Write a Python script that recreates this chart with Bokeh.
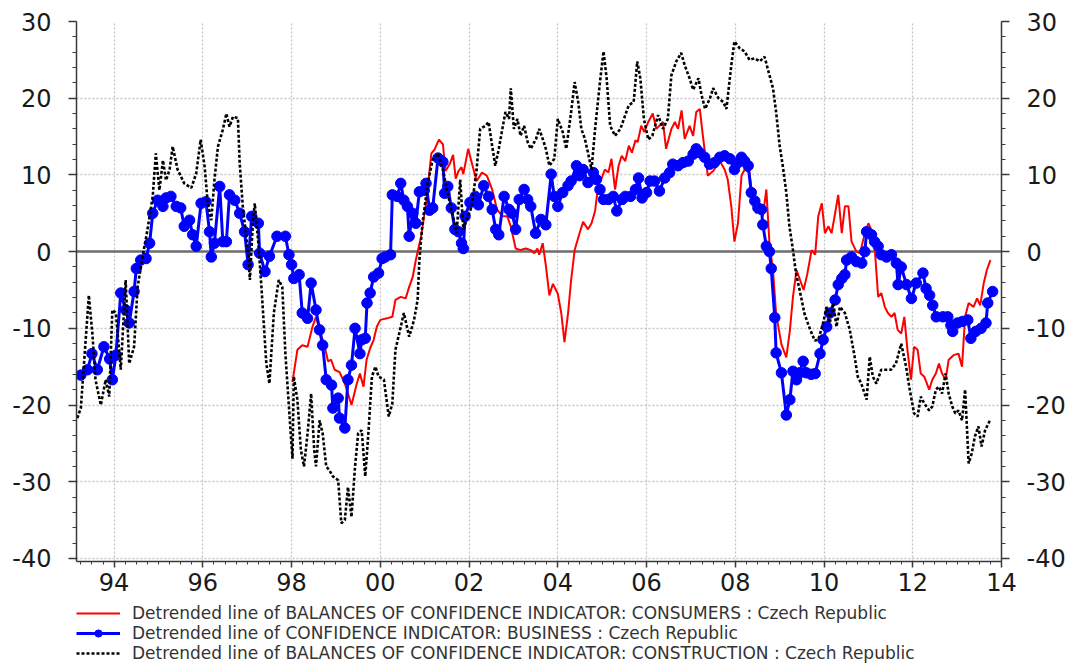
import numpy as np
from bokeh.plotting import figure
from bokeh.layouts import column
from bokeh.models import (Range1d, LinearAxis, FixedTicker, Span, Legend,
                          LegendItem)
from bokeh.core.properties import value
from bokeh.embed import file_html
from bokeh.resources import INLINE

# ---------------- data (decimal year, detrended balance) ----------------
consumers = [
    (1998.02, -17.0), (1998.13, -12.8), (1998.24, -12.2), (1998.36, -12.4), (1998.47, -9.8),
    (1998.55, -8.5), (1998.63, -10.2), (1998.74, -12.2), (1998.82, -14.3), (1998.89, -14.1),
    (1998.97, -15.4), (1999.08, -15.7), (1999.20, -17.2), (1999.27, -18.5), (1999.35, -20.0),
    (1999.47, -17.2), (1999.54, -15.9), (1999.62, -17.6), (1999.69, -14.1), (1999.77, -12.6),
    (1999.85, -11.5), (1999.92, -9.8), (2000.00, -8.9), (2000.15, -8.7), (2000.27, -8.5),
    (2000.34, -6.3), (2000.46, -5.9), (2000.57, -6.1), (2000.65, -4.6), (2000.73, -3.3),
    (2000.80, -1.1), (2000.92, 2.0), (2001.03, 6.3), (2001.15, 12.8), (2001.22, 13.3),
    (2001.32, 14.6), (2001.41, 14.0), (2001.47, 10.5), (2001.57, 11.5), (2001.64, 12.6),
    (2001.70, 9.5), (2001.76, 10.5), (2001.83, 11.0), (2001.87, 10.1), (2001.98, 13.4),
    (2002.06, 11.6), (2002.17, 9.2), (2002.29, 10.3), (2002.40, 9.9), (2002.52, 8.1),
    (2002.63, 5.5), (2002.75, 4.6), (2002.86, 4.6), (2002.94, 3.3), (2003.05, 0.4),
    (2003.16, 0.2), (2003.28, 0.4), (2003.39, 0.2), (2003.47, -0.2), (2003.54, 0.4),
    (2003.58, -0.4), (2003.66, 1.1), (2003.73, -1.8), (2003.81, -5.7), (2003.89, -4.2),
    (2004.00, -5.5), (2004.08, -8.1), (2004.15, -11.8), (2004.23, -8.1), (2004.30, -3.7),
    (2004.38, 0.2), (2004.49, 2.4), (2004.57, 3.9), (2004.68, 2.9), (2004.76, 3.7),
    (2004.84, 5.3), (2004.91, 8.6), (2004.99, 9.6), (2005.06, 10.7), (2005.14, 10.3),
    (2005.21, 12.1), (2005.29, 8.1), (2005.37, 11.2), (2005.44, 12.5), (2005.52, 11.8),
    (2005.60, 13.8), (2005.67, 12.9), (2005.75, 14.5), (2005.80, 14.3), (2005.88, 16.4),
    (2005.95, 15.6), (2006.03, 16.8), (2006.14, 18.0), (2006.22, 16.0), (2006.37, 16.9),
    (2006.44, 13.4), (2006.56, 16.0), (2006.64, 16.9), (2006.71, 16.0), (2006.79, 18.4),
    (2006.86, 14.7), (2006.97, 16.4), (2007.05, 15.1), (2007.12, 18.2), (2007.20, 18.6),
    (2007.27, 15.1), (2007.38, 9.9), (2007.50, 10.5), (2007.65, 11.8), (2007.76, 10.7),
    (2007.83, 9.4), (2007.91, 5.9), (2007.98, 1.3), (2008.06, 3.7), (2008.14, 9.9),
    (2008.21, 10.7), (2008.32, 10.3), (2008.40, 6.4), (2008.47, 5.0), (2008.55, 5.9),
    (2008.62, 4.6), (2008.70, 8.1), (2008.77, 1.1), (2008.85, -2.4), (2008.92, -8.1),
    (2009.04, -12.1), (2009.15, -13.8), (2009.23, -10.3), (2009.30, -5.9), (2009.38, -2.4),
    (2009.46, -3.7), (2009.54, -5.0), (2009.62, -3.0), (2009.72, 0.2), (2009.80, -0.4),
    (2009.87, 4.6), (2009.95, 6.3), (2010.02, 2.4), (2010.10, 3.3), (2010.17, 2.4),
    (2010.25, 5.0), (2010.32, 7.4), (2010.40, 2.4), (2010.47, 5.9), (2010.55, 5.9),
    (2010.62, 1.3), (2010.73, 0.0), (2010.81, -0.2), (2010.92, 2.4), (2011.00, 3.7),
    (2011.07, 2.8), (2011.14, 0.7), (2011.22, -5.9), (2011.29, -5.4), (2011.37, -7.2),
    (2011.44, -8.0), (2011.52, -8.5), (2011.59, -8.0), (2011.66, -10.2), (2011.74, -10.7),
    (2011.81, -8.5), (2011.88, -12.8), (2011.96, -16.7), (2012.03, -12.4), (2012.11, -12.8),
    (2012.18, -15.9), (2012.26, -16.3), (2012.37, -18.0), (2012.44, -16.7), (2012.52, -15.9),
    (2012.59, -14.6), (2012.66, -15.9), (2012.74, -16.7), (2012.81, -14.1), (2012.92, -13.5),
    (2013.03, -13.3), (2013.11, -15.0), (2013.18, -8.5), (2013.26, -6.7), (2013.37, -7.2),
    (2013.45, -6.1), (2013.52, -7.0), (2013.60, -4.1), (2013.67, -2.4), (2013.75, -1.1),
]

business = [
    (1993.25, -16.1), (1993.40, -15.4), (1993.50, -13.3), (1993.62, -15.4), (1993.77, -12.4),
    (1993.90, -14.0), (1993.96, -16.7), (1994.04, -13.5), (1994.15, -5.4), (1994.26, -7.6),
    (1994.34, -9.3), (1994.45, -5.2), (1994.50, -2.2), (1994.60, -1.1), (1994.72, -0.9),
    (1994.80, 1.1), (1994.87, 5.0), (1994.98, 6.7), (1995.10, 5.9), (1995.17, 7.0),
    (1995.28, 7.2), (1995.40, 5.9), (1995.50, 5.7), (1995.58, 3.3), (1995.70, 4.1),
    (1995.77, 2.2), (1995.85, 0.7), (1995.96, 6.3), (1996.07, 6.5), (1996.15, 2.6),
    (1996.19, -0.7), (1996.26, 1.1), (1996.38, 8.5), (1996.45, 1.3), (1996.53, 1.3),
    (1996.60, 7.4), (1996.72, 6.7), (1996.83, 5.0), (1996.94, 2.6), (1997.02, -1.7),
    (1997.10, 4.6), (1997.25, 3.7), (1997.28, -0.2), (1997.40, -2.6), (1997.50, -0.6),
    (1997.67, 2.0), (1997.86, 2.0), (1997.94, -0.4), (1998.00, -1.7), (1998.05, -3.5),
    (1998.17, -3.0), (1998.24, -8.0), (1998.36, -8.7), (1998.44, -4.1), (1998.55, -7.6),
    (1998.63, -10.2), (1998.70, -12.2), (1998.78, -16.7), (1998.90, -17.4), (1998.93, -20.4),
    (1999.05, -19.1), (1999.08, -21.7), (1999.20, -23.0), (1999.27, -16.7), (1999.35, -14.8),
    (1999.43, -10.0), (1999.54, -13.3), (1999.58, -11.5), (1999.66, -11.3), (1999.70, -6.7),
    (1999.77, -5.4), (1999.85, -3.3), (1999.96, -2.8), (2000.04, -0.9), (2000.11, -0.7),
    (2000.23, -0.4), (2000.27, 7.4), (2000.38, 7.2), (2000.46, 8.9), (2000.53, 6.7),
    (2000.61, 5.9), (2000.65, 2.0), (2000.73, 5.0), (2000.80, 3.7), (2000.88, 7.8),
    (2000.99, 8.0), (2001.03, 8.9), (2001.11, 5.4), (2001.18, 5.7), (2001.30, 12.2),
    (2001.41, 11.7), (2001.45, 7.6), (2001.52, 8.5), (2001.60, 5.7), (2001.68, 2.9),
    (2001.76, 2.6), (2001.83, 1.1), (2001.87, 0.4), (2001.91, 4.6), (2002.02, 6.4),
    (2002.14, 7.2), (2002.21, 6.1), (2002.33, 8.6), (2002.44, 7.2), (2002.52, 5.5),
    (2002.60, 2.9), (2002.67, 2.2), (2002.79, 7.2), (2002.90, 5.5), (2002.97, 5.0),
    (2003.05, 2.9), (2003.13, 6.8), (2003.24, 8.1), (2003.32, 6.8), (2003.39, 5.9),
    (2003.50, 2.4), (2003.62, 4.2), (2003.73, 3.5), (2003.85, 10.1), (2003.92, 7.2),
    (2004.00, 5.9), (2004.11, 7.7), (2004.23, 8.6), (2004.30, 9.2), (2004.42, 11.2),
    (2004.49, 9.9), (2004.57, 10.7), (2004.68, 9.0), (2004.80, 10.3), (2004.87, 9.4),
    (2004.95, 8.1), (2005.03, 6.8), (2005.14, 6.8), (2005.25, 7.2), (2005.33, 5.3),
    (2005.45, 6.8), (2005.52, 7.2), (2005.64, 7.2), (2005.75, 8.1), (2005.82, 9.6),
    (2005.90, 7.0), (2006.00, 7.7), (2006.08, 9.2), (2006.18, 9.2), (2006.29, 7.9),
    (2006.41, 9.6), (2006.52, 10.3), (2006.59, 11.4), (2006.71, 11.2), (2006.82, 11.6),
    (2006.94, 11.8), (2007.05, 12.7), (2007.12, 13.4), (2007.20, 12.9), (2007.31, 12.3),
    (2007.42, 11.4), (2007.53, 11.6), (2007.65, 12.3), (2007.76, 12.5), (2007.88, 12.1),
    (2007.98, 10.7), (2008.06, 11.6), (2008.14, 12.3), (2008.21, 11.8), (2008.29, 11.2),
    (2008.36, 7.7), (2008.44, 6.6), (2008.51, 5.7), (2008.59, 5.5), (2008.62, 3.5),
    (2008.70, 0.7), (2008.77, 0.0), (2008.81, -2.2), (2008.89, -8.6), (2008.92, -13.2),
    (2009.04, -15.8), (2009.15, -21.3), (2009.23, -19.3), (2009.30, -15.6), (2009.38, -16.7),
    (2009.45, -15.8), (2009.53, -14.3), (2009.60, -15.8), (2009.71, -16.0), (2009.80, -15.9),
    (2009.91, -13.3), (2009.98, -11.5), (2010.06, -9.8), (2010.13, -8.0), (2010.25, -6.3),
    (2010.32, -4.3), (2010.40, -3.5), (2010.47, -3.0), (2010.51, -1.1), (2010.62, -0.7),
    (2010.73, -1.3), (2010.85, -1.5), (2010.92, 0.0), (2010.96, 2.6), (2011.07, 2.2),
    (2011.14, 1.3), (2011.22, 0.7), (2011.29, -0.4), (2011.41, -0.7), (2011.52, -0.4),
    (2011.63, -1.5), (2011.67, -4.3), (2011.74, -2.0), (2011.86, -4.3), (2011.97, -6.1),
    (2012.08, -4.1), (2012.23, -2.8), (2012.30, -4.8), (2012.38, -5.7), (2012.45, -7.0),
    (2012.53, -8.5), (2012.68, -8.5), (2012.79, -8.5), (2012.86, -9.6), (2012.90, -10.4),
    (2013.01, -9.3), (2013.12, -9.1), (2013.24, -8.9), (2013.31, -11.3), (2013.42, -10.4),
    (2013.54, -10.0), (2013.65, -9.3), (2013.69, -6.7), (2013.80, -5.2),
]

construction = [
    (1993.17, -21.7), (1993.25, -20.4), (1993.43, -5.7), (1993.51, -10.7), (1993.58, -16.7),
    (1993.70, -20.0), (1993.81, -16.7), (1993.89, -18.9), (1993.96, -7.6), (1994.04, -8.0),
    (1994.15, -15.4), (1994.26, -3.7), (1994.34, -14.6), (1994.45, -12.4), (1994.53, -4.6),
    (1994.64, -0.7), (1994.75, 2.8), (1994.87, 7.2), (1994.94, 12.8), (1995.02, 8.0),
    (1995.10, 11.9), (1995.17, 9.3), (1995.25, 10.7), (1995.32, 13.7), (1995.43, 10.7),
    (1995.58, 8.9), (1995.74, 8.3), (1995.85, 10.2), (1995.95, 14.6), (1996.04, 11.1),
    (1996.11, 6.3), (1996.19, 4.1), (1996.26, 9.3), (1996.34, 13.7), (1996.45, 15.9),
    (1996.53, 18.0), (1996.60, 16.3), (1996.68, 17.6), (1996.79, 17.4), (1996.83, 11.5),
    (1996.90, 5.9), (1997.02, -0.2), (1997.06, -3.7), (1997.13, 4.1), (1997.17, 6.3),
    (1997.25, 1.1), (1997.32, -4.6), (1997.43, -14.6), (1997.50, -17.2), (1997.60, -8.0),
    (1997.71, -3.7), (1997.79, -4.6), (1997.86, -13.3), (1997.98, -23.7), (1998.02, -27.0),
    (1998.05, -16.3), (1998.13, -19.3), (1998.21, -25.9), (1998.28, -28.0), (1998.36, -23.7),
    (1998.44, -18.5), (1998.51, -25.9), (1998.55, -28.0), (1998.63, -22.0), (1998.70, -23.7),
    (1998.78, -28.0), (1998.85, -28.5), (1998.93, -29.3), (1999.05, -29.8), (1999.12, -35.4),
    (1999.20, -35.0), (1999.27, -30.7), (1999.35, -34.6), (1999.43, -28.0), (1999.50, -23.7),
    (1999.58, -23.3), (1999.66, -29.3), (1999.73, -23.7), (1999.81, -16.3), (1999.89, -15.0),
    (1999.96, -16.3), (2000.08, -16.7), (2000.19, -21.5), (2000.27, -19.8), (2000.34, -12.8),
    (2000.46, -9.8), (2000.53, -8.0), (2000.65, -11.1), (2000.76, -8.9), (2000.84, -6.3),
    (2000.88, -1.1), (2000.95, 3.7), (2001.07, 8.9), (2001.18, 12.0), (2001.30, 12.8),
    (2001.41, 10.7), (2001.50, 8.0), (2001.60, 5.5), (2001.72, 2.4), (2001.80, 9.4),
    (2001.87, 2.9), (2001.95, 4.2), (2002.06, 5.9), (2002.17, 10.7), (2002.25, 16.0),
    (2002.37, 16.4), (2002.44, 16.9), (2002.52, 13.8), (2002.59, 11.2), (2002.67, 13.4),
    (2002.75, 16.0), (2002.82, 18.2), (2002.90, 17.3), (2002.94, 21.3), (2003.01, 16.0),
    (2003.09, 17.3), (2003.16, 15.1), (2003.24, 16.4), (2003.32, 14.3), (2003.39, 13.4),
    (2003.51, 14.7), (2003.58, 16.0), (2003.66, 14.7), (2003.73, 13.4), (2003.81, 11.2),
    (2003.92, 12.1), (2004.00, 17.3), (2004.11, 15.6), (2004.19, 13.4), (2004.30, 18.2),
    (2004.38, 22.1), (2004.46, 19.5), (2004.53, 16.0), (2004.61, 14.7), (2004.68, 12.9),
    (2004.76, 10.7), (2004.84, 16.0), (2004.95, 22.1), (2005.03, 26.1), (2005.10, 22.6),
    (2005.18, 16.4), (2005.29, 15.1), (2005.41, 16.0), (2005.52, 17.8), (2005.60, 19.1),
    (2005.71, 19.5), (2005.79, 24.8), (2005.86, 22.6), (2005.94, 17.3), (2006.04, 14.6),
    (2006.13, 15.1), (2006.26, 17.8), (2006.37, 16.0), (2006.48, 17.3), (2006.56, 23.0),
    (2006.67, 24.8), (2006.78, 25.9), (2006.86, 24.3), (2006.97, 22.6), (2007.05, 21.1),
    (2007.17, 22.6), (2007.24, 20.4), (2007.32, 18.6), (2007.43, 20.0), (2007.50, 21.3),
    (2007.62, 20.0), (2007.73, 19.5), (2007.80, 18.6), (2007.91, 24.3), (2007.98, 27.4),
    (2008.10, 26.5), (2008.21, 26.1), (2008.32, 25.0), (2008.43, 25.2), (2008.55, 24.8),
    (2008.66, 25.4), (2008.77, 23.0), (2008.85, 21.3), (2008.92, 18.2), (2009.00, 13.8),
    (2009.07, 11.2), (2009.15, 7.7), (2009.22, 3.3), (2009.30, 0.2), (2009.37, -2.9),
    (2009.45, -5.0), (2009.56, -8.1), (2009.67, -9.9), (2009.79, -11.6), (2009.87, -11.5),
    (2009.98, -9.3), (2010.06, -7.2), (2010.13, -9.3), (2010.21, -6.7), (2010.28, -9.8),
    (2010.36, -7.2), (2010.47, -8.0), (2010.58, -10.2), (2010.69, -13.7), (2010.76, -16.3),
    (2010.84, -17.2), (2010.96, -19.3), (2011.03, -13.7), (2011.10, -16.3), (2011.18, -17.2),
    (2011.29, -15.4), (2011.40, -15.4), (2011.51, -15.4), (2011.62, -14.6), (2011.74, -12.0),
    (2011.85, -15.0), (2011.92, -17.6), (2012.03, -21.1), (2012.11, -21.5), (2012.18, -18.9),
    (2012.26, -19.8), (2012.37, -20.7), (2012.44, -20.2), (2012.52, -18.0), (2012.59, -17.6),
    (2012.66, -18.5), (2012.74, -15.9), (2012.81, -18.5), (2012.89, -20.2), (2012.96, -21.1),
    (2013.03, -20.7), (2013.11, -22.0), (2013.18, -18.0), (2013.22, -22.8), (2013.26, -27.6),
    (2013.33, -26.3), (2013.40, -24.1), (2013.48, -22.8), (2013.55, -25.4), (2013.63, -23.3),
    (2013.74, -22.0),
]

year_ticks = [1994, 1996, 1998, 2000, 2002, 2004, 2006, 2008, 2010, 2012, 2014]
year_labels = ["94", "96", "98", "00", "02", "04", "06", "08", "10", "12", "14"]
value_ticks = [-40, -30, -20, -10, 0, 10, 20, 30]
value_labels = ["-40", "-30", "-20", "-10", "0", "10", "20", "30"]

series_names = [
    "Detrended line of BALANCES OF CONFIDENCE INDICATOR: CONSUMERS : Czech Republic",
    "Detrended line of CONFIDENCE INDICATOR: BUSINESS : Czech Republic",
    "Detrended line of BALANCES OF CONFIDENCE INDICATOR: CONSTRUCTION : Czech Republic",
]

RED, BLUE, BLACK = "#ff0000", "#0000ff", "#000000"
FONT = "DejaVu Sans"

ct, cv = [list(a) for a in zip(*consumers)]
bt, bv = [list(a) for a in zip(*business)]
kt, kv = [list(a) for a in zip(*construction)]

LEFT, RIGHT = 76, 65

# ---------------- main chart ----------------
p = figure(width=1068, height=603, output_backend="svg", toolbar_location=None,
           x_range=Range1d(1993.152, 2014.0), y_range=Range1d(-40.4, 30),
           min_border_left=LEFT, min_border_right=RIGHT, min_border_top=21,
           min_border_bottom=42, outline_line_color=None,
           background_fill_color="white", border_fill_color="white")


def style_axis(ax, tick_out, minor_out, standoff):
    ax.axis_line_color = "#3a3a3a"
    ax.axis_line_width = 1.5
    ax.major_tick_line_color = "#3a3a3a"
    ax.major_tick_line_width = 1.5
    ax.minor_tick_line_color = "#3a3a3a"
    ax.minor_tick_line_width = 1
    ax.major_tick_out = tick_out
    ax.major_tick_in = 0
    ax.minor_tick_out = minor_out
    ax.minor_tick_in = 0
    ax.major_label_text_font = FONT
    ax.major_label_text_font_size = "24px"
    ax.major_label_text_color = "#1a1a1a"
    ax.major_label_standoff = standoff


quarters = list(np.arange(1993.25, 2014.01, 0.25))
xa = p.xaxis[0]
xa.ticker = FixedTicker(ticks=year_ticks, minor_ticks=quarters)
xa.major_label_overrides = {t: lab for t, lab in zip(year_ticks, year_labels)}
style_axis(xa, 6, 3, 5)

y_overrides = {t: lab for t, lab in zip(value_ticks, value_labels)}
ya = p.yaxis[0]
ya.ticker = FixedTicker(ticks=value_ticks, minor_ticks=list(range(-40, 31, 2)))
ya.major_label_overrides = y_overrides
style_axis(ya, 8, 4, 17)

yr = LinearAxis(ticker=FixedTicker(ticks=value_ticks, minor_ticks=list(range(-40, 31, 2))))
yr.major_label_overrides = y_overrides
style_axis(yr, 8, 4, 17)
p.add_layout(yr, "right")

p.xgrid.ticker = FixedTicker(ticks=year_ticks[:-1])
p.ygrid.ticker = FixedTicker(ticks=value_ticks)
for g in (p.xgrid[0], p.ygrid[0]):
    g.grid_line_color = "#c4c4c4"
    g.grid_line_width = 1.3
    g.grid_line_dash = "2 2"

p.add_layout(Span(location=0, dimension="width", line_color="#6e6e6e",
                  line_width=2.5, level="underlay"))

p.line(ct, cv, line_color=RED, line_width=2)
p.line(bt, bv, line_color=BLUE, line_width=3)
p.scatter(bt, bv, size=10.5, fill_color=BLUE, line_color=BLUE)
p.line(kt, kv, line_color=BLACK, line_width=2.6, line_dash="3 2")

# ---------------- legend strip (series drawn off-range, only keys show) ----------------
lg = figure(width=1068, height=63, output_backend="svg", toolbar_location=None,
            x_range=Range1d(0, 1), y_range=Range1d(0, 1),
            x_axis_location=None, y_axis_location=None,
            min_border_left=LEFT, min_border_right=RIGHT, min_border_top=0,
            min_border_bottom=0, outline_line_color=None,
            background_fill_color="white", border_fill_color="white")
lg.grid.visible = False
k_red = lg.line(ct, cv, line_color=RED, line_width=2)
k_blue = lg.line(bt, bv, line_color=BLUE, line_width=3)
k_blue_pts = lg.scatter(bt, bv, size=10, fill_color=BLUE, line_color=BLUE)
k_black = lg.line(kt, kv, line_color=BLACK, line_width=2.6, line_dash="3 2")

legend = Legend(items=[
    LegendItem(label=value(series_names[0]), renderers=[k_red]),
    LegendItem(label=value(series_names[1]), renderers=[k_blue, k_blue_pts]),
    LegendItem(label=value(series_names[2]), renderers=[k_black]),
], location="top_left", orientation="vertical",
    label_text_font=FONT, label_text_font_size="17px", label_text_color="#333333",
    glyph_width=44, glyph_height=18, label_height=18, spacing=0, padding=7,
    margin=0, label_standoff=12, border_line_color=None,
    background_fill_alpha=0.0)
lg.add_layout(legend, "center")

page = column(p, lg, spacing=0)
open("out.html", "w").write(file_html(page, INLINE))
